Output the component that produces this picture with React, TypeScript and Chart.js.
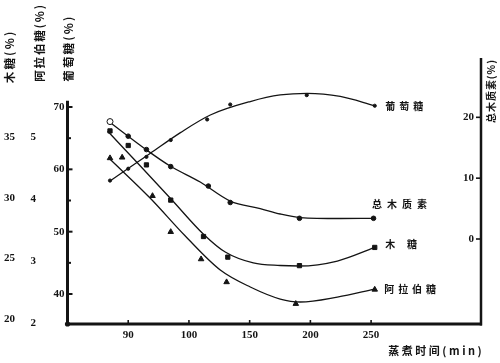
import { useEffect, useRef } from 'react';
import { Chart, registerables } from 'chart.js';

Chart.register(...registerables);

// ---- x axis (cooking time, min) — tick labels are equally spaced on the original figure
const xTickLabels = [90, 100, 150, 200, 250];

// ---- measured points
const glucoseTimes = [87, 90, 93, 97, 115, 134, 197, 253];
const glucose = [58.2, 60.1, 62.0, 64.7, 68.0, 70.4, 71.9, 70.2];
const ligninTimes = [87, 90, 93, 97, 116, 134, 191, 252];
const lignin = [19.3, 16.9, 14.7, 11.9, 8.7, 6.0, 3.4, 3.4];
const xyloseTimes = [87, 90, 93, 97, 112, 132, 191, 253];
const xylose = [35.5, 34.3, 32.7, 29.8, 26.8, 25.1, 24.4, 25.9];
const arabinoseTimes = [87, 89, 94, 97, 110, 131, 188, 253];
const arabinose = [4.66, 4.67, 4.05, 3.47, 3.03, 2.66, 2.31, 2.54];

// ---- fitted (hand-drawn) curves
const glucoseFitTimes = [87, 93.6, 98.6, 117.6, 150.5, 175.2, 197.4, 224.6, 252.6];
const glucoseFit = [58.13, 62.54, 65.89, 68.72, 70.88, 71.93, 72.2, 71.69, 70.21];
const ligninFitTimes = [86.8, 92.8, 96.9, 109.3, 134.0, 158.7, 175.2, 191.7, 224.6, 252.1];
const ligninFit = [19.31, 14.79, 12.0, 9.37, 6.24, 5.01, 4.11, 3.53, 3.37, 3.4];
const xyloseFitTimes = [86.6, 92.0, 97.2, 111.8, 129.9, 153.0, 175.2, 190.9, 222.2, 252.6];
const xyloseFit = [35.49, 32.61, 29.81, 27.01, 25.52, 24.62, 24.41, 24.37, 24.78, 25.88];
const arabinoseFitTimes = [86.8, 93.6, 99.4, 125.8, 150.5, 175.2, 191.7, 222.2, 252.6];
const arabinoseFit = [4.661, 4.016, 3.403, 2.855, 2.581, 2.387, 2.339, 2.419, 2.548];

// ---- axes
const xRange = [0, 6.81];
const glucoseRange = [35.19, 77.86];
const glucoseTicks = [40, 45, 50, 55, 60, 65, 70];
const glucoseAxisTop = 71;
const ligninRange = [-13.97, 29.75];
const ligninTicks = [0, 10, 20];
const xyloseRange = [19.59, 41.51];
const xyloseTicks = [20, 25, 30, 35];
const arabinoseRange = [1.984, 6.274];
const arabinoseTicks = [2, 3, 4, 5];

const INK = '#141414';
const CJK = "'Noto Sans CJK SC', sans-serif";
const NUM = "'Liberation Serif', serif";

function toPos(t: number): number {
  const v = xTickLabels;
  if (t <= v[1]) return 1 + (t - v[0]) / (v[1] - v[0]);
  for (let i = 1; i < v.length - 1; i++) {
    if (t <= v[i + 1]) return i + 1 + (t - v[i]) / (v[i + 1] - v[i]);
  }
  const n = v.length - 1;
  return n + 1 + (t - v[n]) / (v[n] - v[n - 1]);
}

const pts = (ts: number[], vs: number[]) => ts.map((t, i) => ({ x: toPos(t), y: vs[i] }));

function drawFitted(ctx: CanvasRenderingContext2D, text: string, x: number, y: number, length: number) {
  const chars = Array.from(text);
  const widths = chars.map((c) => ctx.measureText(c).width);
  const total = widths.reduce((a, b) => a + b, 0);
  const gap = chars.length > 1 ? (length - total) / (chars.length - 1) : 0;
  let cx = x;
  ctx.textAlign = 'left';
  chars.forEach((c, i) => {
    ctx.fillText(c, cx, y);
    cx += widths[i] + gap;
  });
}

const overlay = {
  id: 'overlay',
  afterDraw(chart: any) {
    const { ctx, chartArea: ca, scales } = chart;
    const xs = scales.x;
    const yG = scales.yG;
    const yL = scales.yL;
    ctx.save();
    ctx.strokeStyle = INK;
    ctx.fillStyle = INK;

    // axis lines
    ctx.lineCap = 'butt';
    ctx.lineWidth = 3;
    ctx.beginPath();
    ctx.moveTo(ca.left, yG.getPixelForValue(glucoseAxisTop));
    ctx.lineTo(ca.left, ca.bottom);
    ctx.moveTo(ca.left, ca.bottom);
    ctx.lineTo(ca.right + 1, ca.bottom);
    ctx.stroke();
    ctx.lineWidth = 2.5;
    ctx.beginPath();
    ctx.moveTo(ca.right, ca.top);
    ctx.lineTo(ca.right, ca.bottom + 1.5);
    ctx.stroke();
    ctx.beginPath();
    ctx.arc(ca.left, ca.bottom, 2.6, 0, Math.PI * 2);
    ctx.fill();

    // tick marks
    ctx.lineWidth = 2;
    glucoseTicks.forEach((v) => {
      const y = yG.getPixelForValue(v);
      ctx.beginPath();
      ctx.moveTo(ca.left, y);
      ctx.lineTo(ca.left + (v % 10 === 0 ? 5 : 3.5), y);
      ctx.stroke();
    });
    ctx.lineWidth = 1.6;
    ligninTicks.forEach((v) => {
      const y = yL.getPixelForValue(v);
      ctx.beginPath();
      ctx.moveTo(ca.right, y);
      ctx.lineTo(ca.right - 5, y);
      ctx.stroke();
    });
    xTickLabels.forEach((_, i) => {
      const x = xs.getPixelForValue(i + 1);
      ctx.beginPath();
      ctx.moveTo(x, ca.bottom);
      ctx.lineTo(x, ca.bottom - 4);
      ctx.stroke();
    });

    // right-axis tick labels (inside)
    ctx.font = `bold 11px ${NUM}`;
    ctx.textAlign = 'right';
    ctx.textBaseline = 'middle';
    ligninTicks.forEach((v) => {
      ctx.fillText(String(v), ca.right - 7, yL.getPixelForValue(v));
    });

    // series labels at curve ends
    const ends = [
      { text: '葡萄糖', scale: yG, t: glucoseFitTimes, v: glucoseFit, dx: 11, dy: 1, len: 38 },
      { text: '总木质素', scale: yL, t: ligninFitTimes, v: ligninFit, dx: -1.6, dy: -14.5, len: 55 },
      { text: '木糖', scale: scales.yX, t: xyloseFitTimes, v: xyloseFit, dx: 11, dy: -3.5, len: 31.7 },
      { text: '阿拉伯糖', scale: scales.yA, t: arabinoseFitTimes, v: arabinoseFit, dx: 10, dy: 0, len: 51.7 },
    ];
    ctx.font = `bold 10px ${CJK}`;
    ctx.textBaseline = 'middle';
    ends.forEach((e) => {
      const n = e.t.length - 1;
      const px = xs.getPixelForValue(toPos(e.t[n])) + e.dx;
      const py = e.scale.getPixelForValue(e.v[n]) + e.dy;
      drawFitted(ctx, e.text, px, py, e.len);
    });

    // vertical axis titles (read bottom to top)
    const vt = [
      { text: '木糖(%)', x: 10, bottom: 83.3, len: 51.6, size: 11.5 },
      { text: '阿拉伯糖(%)', x: 39.5, bottom: 81.7, len: 76.7, size: 11.5 },
      { text: '葡萄糖(%)', x: 69, bottom: 81.7, len: 65, size: 11.5 },
      { text: '总木质素(%)', x: 491.5, bottom: 123, len: 63, size: 10 },
    ];
    vt.forEach((t) => {
      ctx.save();
      ctx.font = `bold ${t.size}px ${CJK}`;
      ctx.translate(t.x, t.bottom);
      ctx.rotate(-Math.PI / 2);
      drawFitted(ctx, t.text, 0, 0, t.len);
      ctx.restore();
    });

    // x axis title
    ctx.font = `bold 11px ${CJK}`;
    drawFitted(ctx, '蒸煮时间(min)', 388.3, 351, 93.4);

    ctx.restore();
  },
};

export default function App() {
  const ref = useRef<HTMLCanvasElement>(null);

  useEffect(() => {
    const tickFont = { family: NUM, weight: 'bold' as const, size: 11 };
    const line = (data: any[], yAxisID: string) => ({
      type: 'line' as const,
      data,
      yAxisID,
      borderColor: INK,
      borderWidth: 1.3,
      pointRadius: 0,
      fill: false,
      cubicInterpolationMode: 'monotone' as const,
      order: 2,
    });
    const marks = (data: any[], yAxisID: string, extra: any) => ({
      type: 'line' as const,
      data,
      yAxisID,
      showLine: false,
      borderColor: INK,
      backgroundColor: INK,
      pointBorderColor: INK,
      pointBackgroundColor: INK,
      pointBorderWidth: 1,
      order: 1,
      ...extra,
    });

    const chart = new Chart(ref.current as HTMLCanvasElement, {
      type: 'line',
      data: {
        datasets: [
          line(pts(glucoseFitTimes, glucoseFit), 'yG'),
          line(pts(ligninFitTimes, ligninFit), 'yL'),
          line(pts(xyloseFitTimes, xyloseFit), 'yX'),
          line(pts(arabinoseFitTimes, arabinoseFit), 'yA'),
          marks(pts(glucoseTimes, glucose), 'yG', { pointStyle: 'circle', pointRadius: 1.6 }),
          marks(pts(ligninTimes, lignin), 'yL', {
            pointStyle: 'circle',
            pointRadius: (c: any) => (c.dataIndex === 0 ? 3 : 2.3),
            pointBackgroundColor: (c: any) => (c.dataIndex === 0 ? '#fff' : INK),
          }),
          marks(pts(xyloseTimes, xylose), 'yX', { pointStyle: 'rect', pointRadius: 3 }),
          marks(pts(arabinoseTimes, arabinose), 'yA', { pointStyle: 'triangle', pointRadius: 3.2 }),
        ] as any,
      },
      options: {
        responsive: false,
        animation: false,
        events: [],
        layout: { padding: { top: 58, left: 0, right: 0, bottom: 0 } },
        plugins: { legend: { display: false }, tooltip: { enabled: false }, title: { display: false } },
        scales: {
          x: {
            type: 'linear',
            min: xRange[0],
            max: xRange[1],
            grid: { display: false, drawTicks: false },
            border: { display: false },
            afterBuildTicks: (s: any) => {
              s.ticks = xTickLabels.map((_, i) => ({ value: i + 1 }));
            },
            afterFit: (s: any) => {
              s.height = 39;
            },
            ticks: {
              autoSkip: false,
              maxRotation: 0,
              padding: 5,
              color: INK,
              font: tickFont,
              callback: (v: any) => String(xTickLabels[Math.round(Number(v)) - 1] ?? ''),
            },
          },
          yX: {
            type: 'linear',
            position: 'left',
            weight: 3,
            min: xyloseRange[0],
            max: xyloseRange[1],
            grid: { display: false, drawTicks: false },
            border: { display: false },
            afterBuildTicks: (s: any) => {
              s.ticks = xyloseTicks.map((v) => ({ value: v }));
            },
            afterFit: (s: any) => {
              s.width = 24;
            },
            ticks: { autoSkip: false, padding: 9, color: INK, font: tickFont, callback: (v: any) => String(v) },
          },
          yA: {
            type: 'linear',
            position: 'left',
            weight: 2,
            min: arabinoseRange[0],
            max: arabinoseRange[1],
            grid: { display: false, drawTicks: false },
            border: { display: false },
            afterBuildTicks: (s: any) => {
              s.ticks = arabinoseTicks.map((v) => ({ value: v }));
            },
            afterFit: (s: any) => {
              s.width = 20;
            },
            ticks: { autoSkip: false, padding: 8, color: INK, font: tickFont, callback: (v: any) => String(v) },
          },
          yG: {
            type: 'linear',
            position: 'left',
            weight: 1,
            min: glucoseRange[0],
            max: glucoseRange[1],
            grid: { display: false, drawTicks: false },
            border: { display: false },
            afterBuildTicks: (s: any) => {
              s.ticks = glucoseTicks.map((v) => ({ value: v }));
            },
            afterFit: (s: any) => {
              s.width = 23.5;
            },
            ticks: {
              autoSkip: false,
              padding: 3,
              color: INK,
              font: tickFont,
              callback: (v: any) => (Number(v) % 10 === 0 ? String(v) : ''),
            },
          },
          yL: {
            type: 'linear',
            position: 'right',
            min: ligninRange[0],
            max: ligninRange[1],
            grid: { display: false, drawTicks: false },
            border: { display: false },
            afterBuildTicks: (s: any) => {
              s.ticks = ligninTicks.map((v) => ({ value: v }));
            },
            afterFit: (s: any) => {
              s.width = 19;
            },
            ticks: { display: false },
          },
        } as any,
      },
      plugins: [overlay],
    });
    return () => chart.destroy();
  }, []);

  return (
    <div style={{ position: 'fixed', left: 0, top: 0, width: 500, height: 363, background: '#fff' }}>
      <canvas ref={ref} width={500} height={363} style={{ display: 'block' }} />
    </div>
  );
}
